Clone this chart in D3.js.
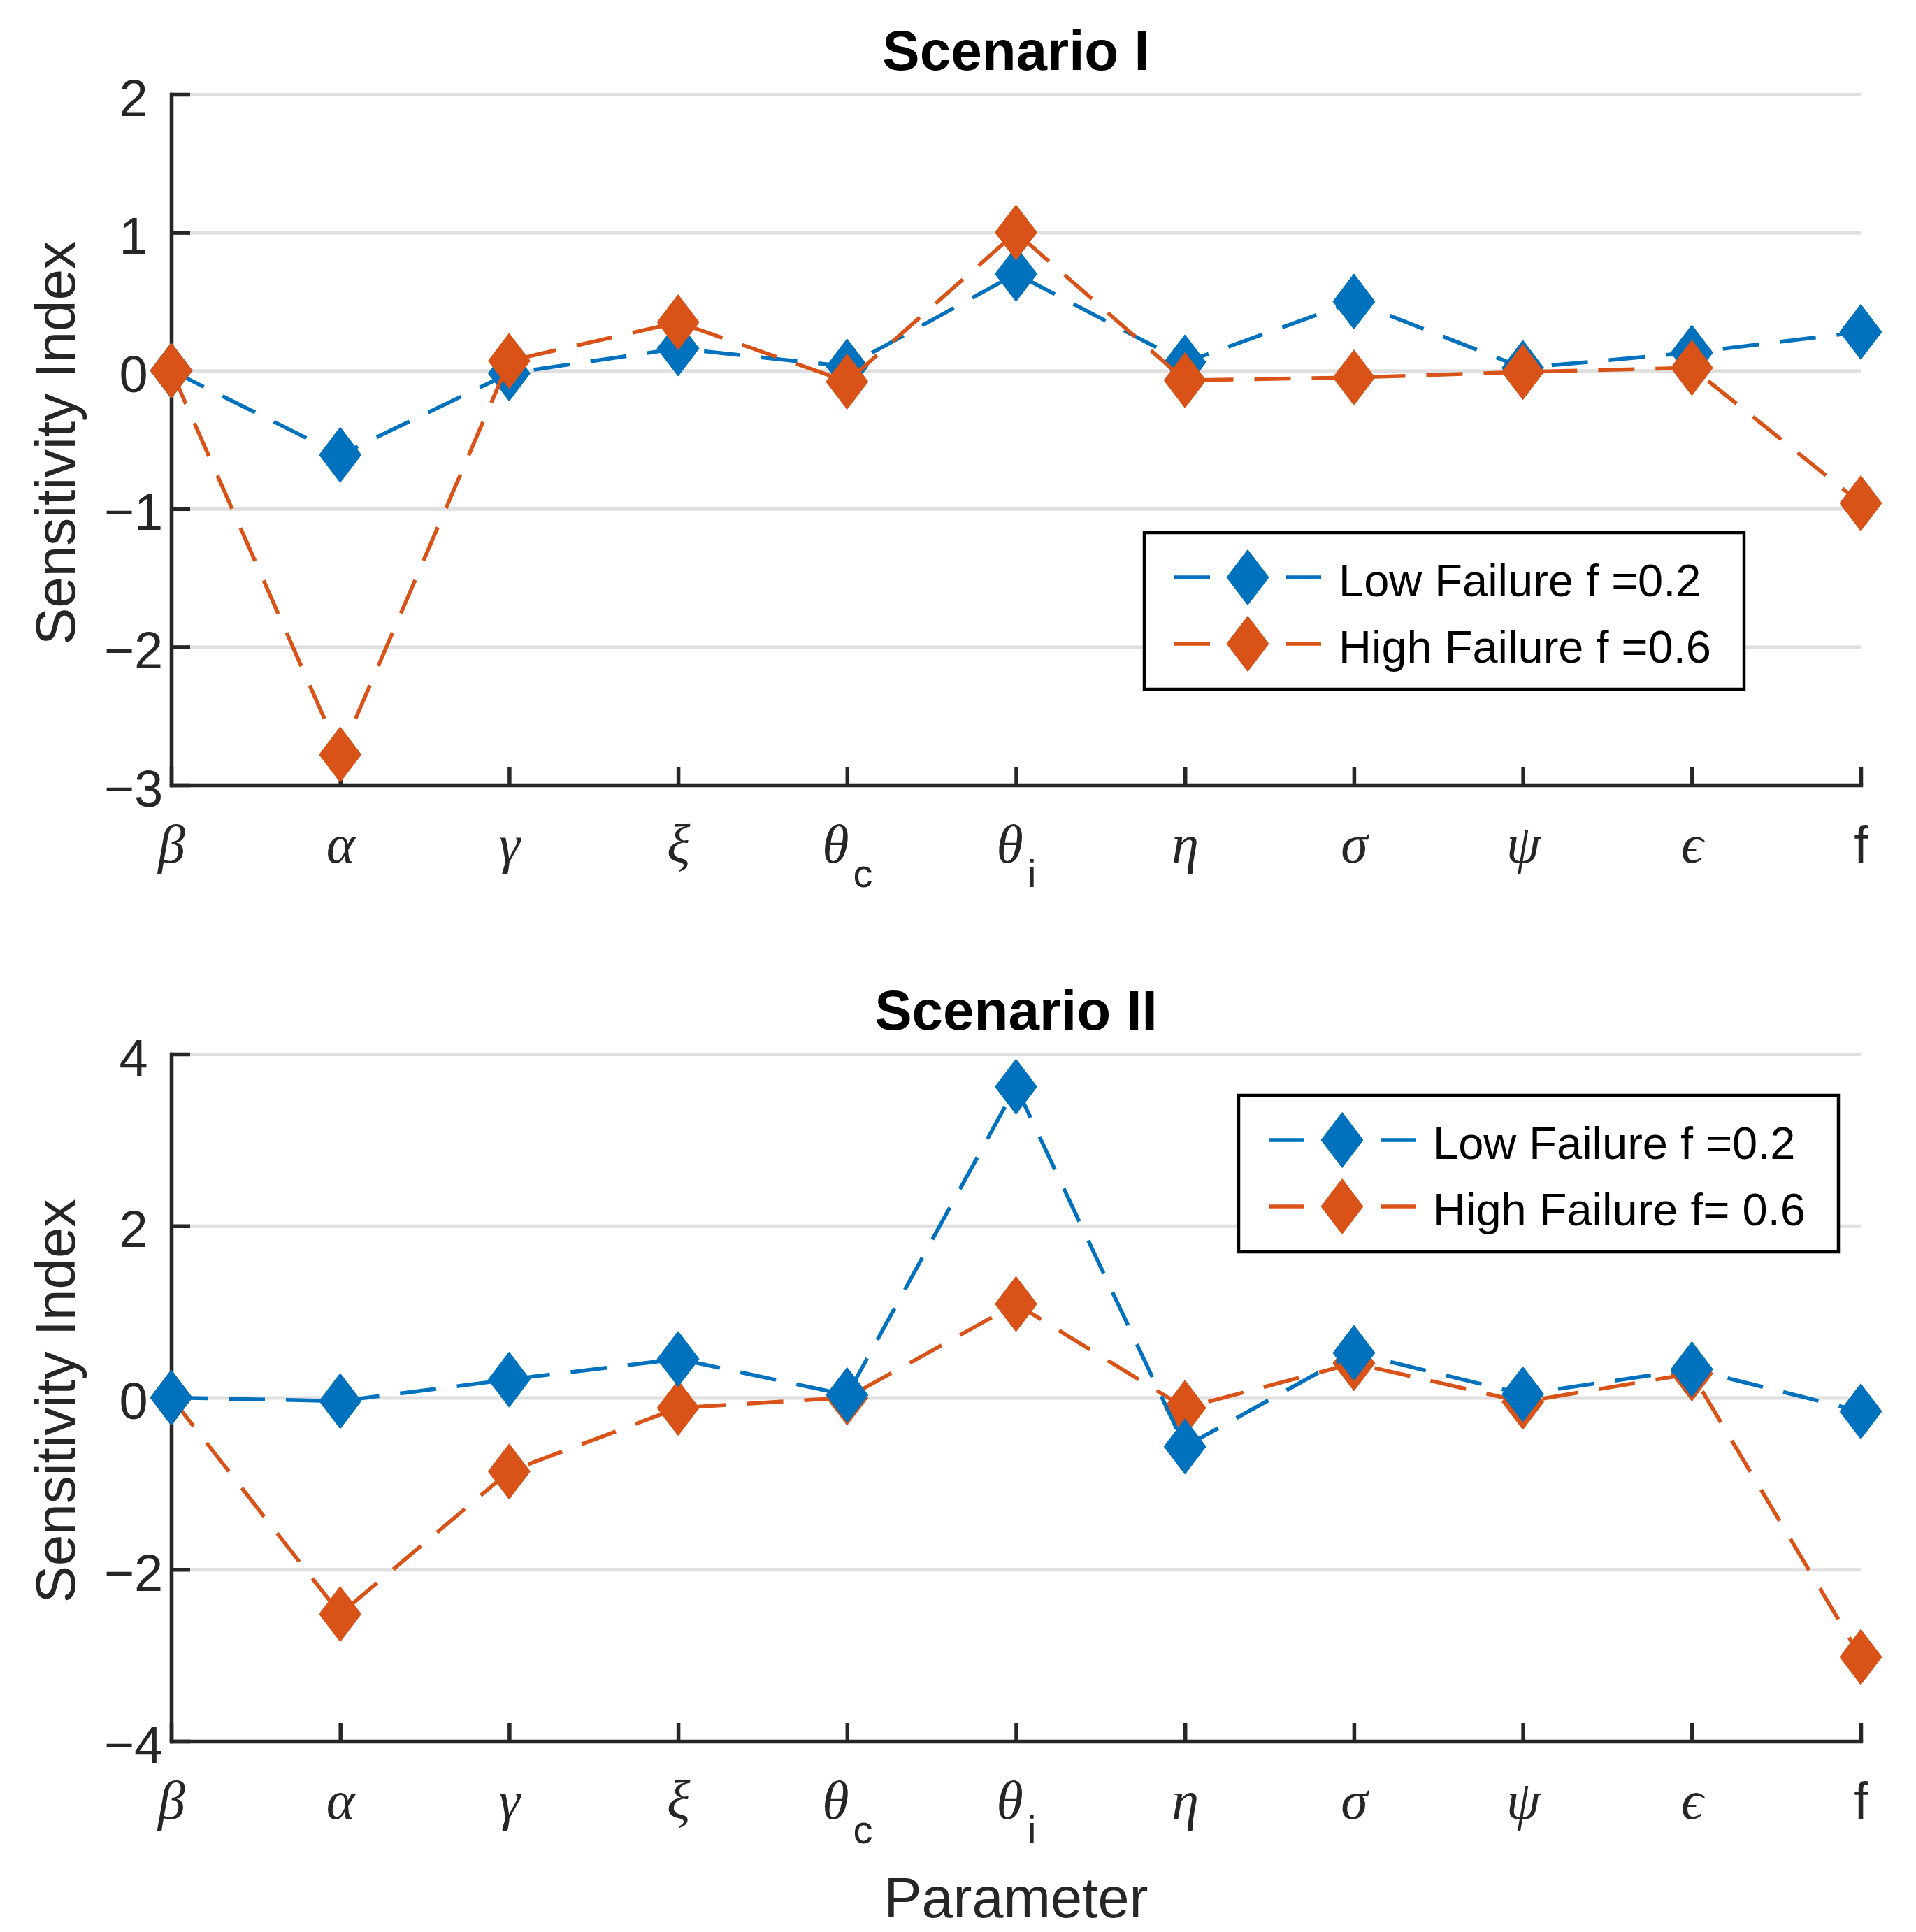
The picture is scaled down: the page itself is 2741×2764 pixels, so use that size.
<!DOCTYPE html>
<html>
<head>
<meta charset="utf-8">
<script src="https://cdn.jsdelivr.net/npm/d3@7"></script>
<style>
  body { margin: 0; background: white; }
  text { font-family: "Liberation Sans", Arial, sans-serif; }
</style>
</head>
<body>
<div id="chart"></div>
<script>
// parameters on the x axis (main glyph + subscript)
var paramMain = ["β", "α", "γ", "ξ", "θ", "θ", "η", "σ", "ψ", "ϵ", "f"];
var paramSub  = ["", "", "", "", "c", "i", "", "", "", "", ""];

// Scenario I sensitivity indices
var s1Low  = [0, -0.61, -0.02, 0.16, 0.03, 0.70, 0.06, 0.50, 0.02, 0.13, 0.28];
var s1High = [0, -2.78, 0.07, 0.35, -0.08, 1.00, -0.07, -0.05, -0.01, 0.02, -0.96];

// Scenario II sensitivity indices
var s2Low  = [0, -0.04, 0.21, 0.45, 0.03, 3.62, -0.57, 0.52, 0.04, 0.33, -0.16];
var s2High = [0, -2.52, -0.86, -0.12, 0.00, 1.09, -0.12, 0.40, -0.05, 0.28, -3.02];

var s1Ticks = [-3, -2, -1, 0, 1, 2];
var s2Ticks = [-4, -2, 0, 2, 4];

var s1Legend = ["Low Failure f =0.2", "High Failure f =0.6"];
var s2Legend = ["Low Failure f =0.2", "High Failure f= 0.6"];

var width = 2741, height = 2764;
var left = 245, right = 2662;
var blue = "#0072BD", orange = "#D95319", axisCol = "#262626";

var svg = d3.select("#chart").append("svg")
    .attr("width", width)
    .attr("height", height)
    .style("background-color", "white");

var x = d3.scaleLinear().domain([0, paramMain.length - 1]).range([left, right]);

// diamond as MATLAB draws it (taller than wide)
var diamond = "M0,-39.5L30,0L0,39.5L-30,0Z";

var panels = [
  {top: 135, bottom: 1123, domain: [-3, 2], ticks: s1Ticks, title: "Scenario I", titleY: 100,
   low: s1Low, high: s1High, lowFirst: true, legend: s1Legend, lx: 1637, ly: 762},
  {top: 1508, bottom: 2491, domain: [-4, 4], ticks: s2Ticks, title: "Scenario II", titleY: 1473,
   low: s2Low, high: s2High, lowFirst: false, legend: s2Legend, lx: 1772, ly: 1567}
];

panels.forEach(function(p) {
  var y = d3.scaleLinear().domain(p.domain).range([p.bottom, p.top]);

  // grid
  svg.append("g")
    .attr("transform", "translate(" + left + ",0)")
    .call(d3.axisLeft(y).tickValues(p.ticks).tickSize(-(right - left)).tickFormat(""))
    .call(function(g) { g.select(".domain").remove(); })
    .selectAll("line")
      .attr("stroke", "#dfdfdf")
      .attr("stroke-width", 5);

  // y axis
  var yAxis = svg.append("g")
    .attr("transform", "translate(" + left + ",0)")
    .call(d3.axisLeft(y).tickValues(p.ticks).tickFormat(d3.format("d")).tickSizeInner(-27).tickSizeOuter(0));
  yAxis.select(".domain").attr("stroke", axisCol).attr("stroke-width", 5.5).attr("stroke-linecap", "square");
  yAxis.selectAll(".tick line").attr("stroke", axisCol).attr("stroke-width", 5.5);
  yAxis.selectAll(".tick text")
    .attr("x", -54)
    .attr("dy", null)
    .attr("y", 30)
    .attr("text-anchor", "middle")
    .attr("fill", axisCol)
    .style("font-size", "74px");

  // x axis
  var xAxis = svg.append("g")
    .attr("transform", "translate(0," + p.bottom + ")")
    .call(d3.axisBottom(x).tickValues(d3.range(paramMain.length)).tickSizeInner(-26).tickSizeOuter(0).tickFormat(""));
  xAxis.select(".domain").attr("stroke", axisCol).attr("stroke-width", 5.5).attr("stroke-linecap", "square");
  xAxis.selectAll(".tick line").attr("stroke", axisCol).attr("stroke-width", 5.5);
  xAxis.selectAll(".tick text").each(function(d) {
    var t = d3.select(this)
      .attr("y", 111)
      .attr("dy", null)
      .attr("text-anchor", "middle")
      .attr("fill", axisCol);
    var isGreek = paramMain[d] !== "f";
    t.append("tspan")
      .text(paramMain[d])
      .style("font-family", isGreek ? "'Liberation Serif', 'DejaVu Serif', serif" : "'Liberation Sans', sans-serif")
      .style("font-style", isGreek ? "italic" : "normal")
      .style("font-size", isGreek ? "78px" : "74px");
    if (paramSub[d]) {
      t.append("tspan")
        .text(paramSub[d])
        .attr("dx", 6)
        .attr("dy", 35)
        .style("font-size", "56px");
    }
  });

  // title
  svg.append("text")
    .attr("x", (left + right) / 2)
    .attr("y", p.titleY)
    .attr("text-anchor", "middle")
    .style("font-size", "80px")
    .style("font-weight", "bold")
    .text(p.title);

  // y label
  svg.append("text")
    .attr("transform", "translate(107," + ((p.top + p.bottom) / 2 + 5) + ") rotate(-90)")
    .attr("text-anchor", "middle")
    .attr("fill", axisCol)
    .style("font-size", "80px")
    .text("Sensitivity Index");

  // series
  var line = d3.line()
    .x(function(d, i) { return x(i); })
    .y(function(d) { return y(d); });

  var series = [{vals: p.low, col: blue}, {vals: p.high, col: orange}];
  if (!p.lowFirst) series.reverse();

  series.forEach(function(s) {
    svg.append("path")
      .datum(s.vals)
      .attr("d", line)
      .attr("fill", "none")
      .attr("stroke", s.col)
      .attr("stroke-width", 5.5)
      .attr("stroke-dasharray", "52,30");
    svg.append("g").selectAll("path")
      .data(s.vals)
      .enter().append("path")
        .attr("d", diamond)
        .attr("transform", function(d, i) { return "translate(" + x(i) + "," + y(d) + ")"; })
        .attr("fill", s.col)
        .attr("stroke", s.col)
        .attr("stroke-width", 1);
  });

  // legend
  var lg = svg.append("g").attr("transform", "translate(" + p.lx + "," + p.ly + ")");
  lg.append("rect")
    .attr("width", 858)
    .attr("height", 224)
    .attr("fill", "white")
    .attr("stroke", "black")
    .attr("stroke-width", 4.5);
  var cols = [blue, orange];
  p.legend.forEach(function(lab, k) {
    var ry = 64 + k * 95;
    lg.append("line").attr("x1", 43).attr("x2", 94).attr("y1", ry).attr("y2", ry)
      .attr("stroke", cols[k]).attr("stroke-width", 5.5);
    lg.append("line").attr("x1", 203).attr("x2", 253).attr("y1", ry).attr("y2", ry)
      .attr("stroke", cols[k]).attr("stroke-width", 5.5);
    lg.append("path").attr("d", diamond)
      .attr("transform", "translate(148," + ry + ")")
      .attr("fill", cols[k]).attr("stroke", cols[k]).attr("stroke-width", 1);
    lg.append("text")
      .attr("x", 278)
      .attr("y", ry + 27)
      .attr("fill", "black")
      .style("font-size", "65px")
      .text(lab);
  });
});

// x label
svg.append("text")
  .attr("x", (left + right) / 2)
  .attr("y", 2743)
  .attr("text-anchor", "middle")
  .attr("fill", axisCol)
  .style("font-size", "81px")
  .text("Parameter");
</script>
</body>
</html>
